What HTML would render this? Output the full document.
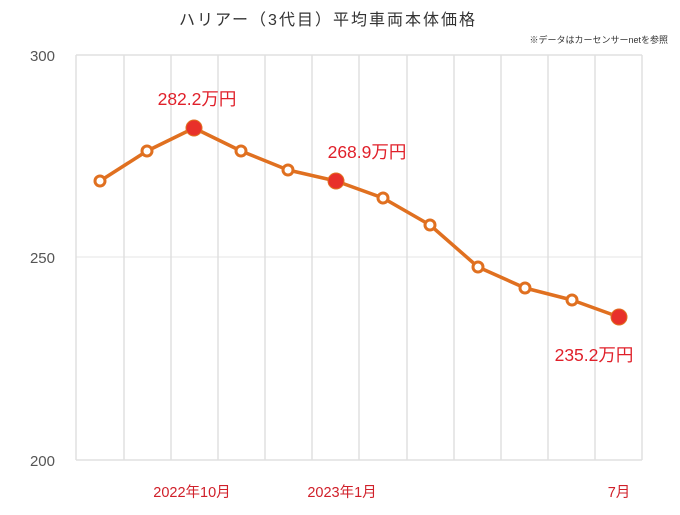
<!DOCTYPE html>
<html><head><meta charset="utf-8"><style>
body{margin:0;background:#fff;}
svg text{font-family:"Liberation Sans","Noto Sans CJK JP",sans-serif;}
</style></head><body>
<svg width="680" height="510" viewBox="0 0 680 510" xmlns="http://www.w3.org/2000/svg">
<rect width="680" height="510" fill="#fff"/>
<text x="328" y="25" font-size="16" fill="#333" text-anchor="middle" letter-spacing="2">ハリアー（3代目）平均車両本体価格</text>
<text x="668" y="43" font-size="9" fill="#333" text-anchor="end">※データはカーセンサーnetを参照</text>
<g stroke="#e0e0e0" stroke-width="1.5" fill="none">
<line x1="76" y1="55" x2="642" y2="55"/>
<line x1="76" y1="257" x2="642" y2="257" stroke="#eee"/>
<line x1="76" y1="460" x2="642" y2="460"/>
<line x1="76" y1="55" x2="76" y2="460"/>
<line x1="124" y1="55" x2="124" y2="460"/>
<line x1="171" y1="55" x2="171" y2="460"/>
<line x1="218" y1="55" x2="218" y2="460"/>
<line x1="265" y1="55" x2="265" y2="460"/>
<line x1="312" y1="55" x2="312" y2="460"/>
<line x1="359" y1="55" x2="359" y2="460"/>
<line x1="407" y1="55" x2="407" y2="460"/>
<line x1="454" y1="55" x2="454" y2="460"/>
<line x1="501" y1="55" x2="501" y2="460"/>
<line x1="548" y1="55" x2="548" y2="460"/>
<line x1="595" y1="55" x2="595" y2="460"/>
<line x1="642" y1="55" x2="642" y2="460"/>
</g>
<g font-size="15" fill="#555" text-anchor="end">
<text x="55" y="61">300</text>
<text x="55" y="263">250</text>
<text x="55" y="466">200</text>
</g>
<g font-size="14.5" fill="#d0202a" text-anchor="middle">
<text x="192" y="497">2022年10月</text>
<text x="342" y="497">2023年1月</text>
<text x="619" y="497">7月</text>
</g>
<polyline fill="none" stroke="#e07020" stroke-width="3.5" stroke-linejoin="round" points="100,181 147,151 194,128 241,151 288,170 336,181 383,198 430,225 478,267 525,288 572,300 619,317"/>
<g fill="#fff" stroke="#e07020" stroke-width="3">
<circle cx="100" cy="181" r="5"/><circle cx="147" cy="151" r="5"/><circle cx="241" cy="151" r="5"/><circle cx="288" cy="170" r="5"/><circle cx="383" cy="198" r="5"/><circle cx="430" cy="225" r="5"/><circle cx="478" cy="267" r="5"/><circle cx="525" cy="288" r="5"/><circle cx="572" cy="300" r="5"/>
</g>
<g fill="#e8302a" stroke="#e07020" stroke-width="1">
<circle cx="194" cy="128" r="8"/><circle cx="336" cy="181" r="8"/><circle cx="619" cy="317" r="8"/>
</g>
<g font-size="17.5" fill="#e0202a" text-anchor="middle">
<text x="197" y="105">282.2万円</text>
<text x="367" y="158">268.9万円</text>
<text x="594" y="361">235.2万円</text>
</g>
</svg>
</body></html>
